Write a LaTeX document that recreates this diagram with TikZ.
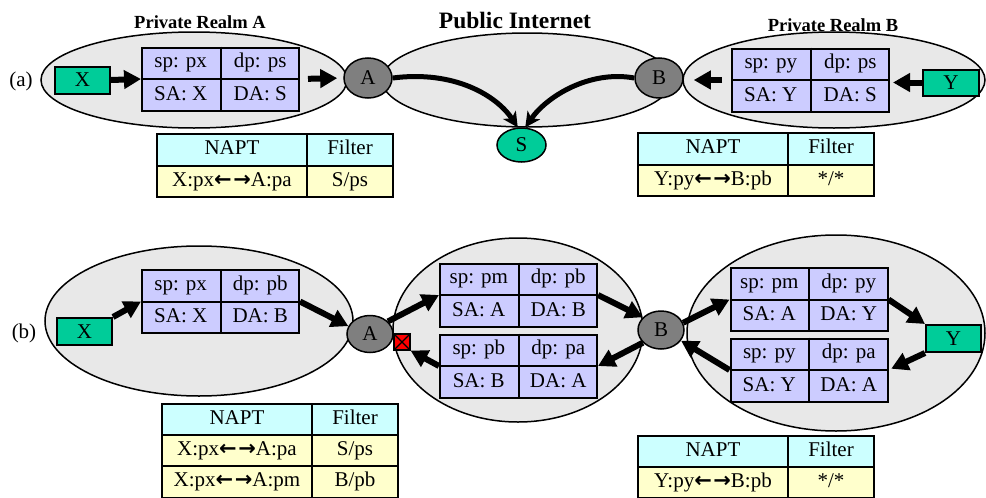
\documentclass[tikz,border=0pt]{standalone}
\usepackage{fontspec}
\setmainfont{Liberation Serif}
\newfontfamily\arrowfont{DejaVu Sans}
\usetikzlibrary{arrows.meta,shapes.geometric,calc}

\definecolor{realmfill}{HTML}{E8E8E8}
\definecolor{pktfill}{HTML}{CCCCFF}
\definecolor{hostfill}{HTML}{00CC99}
\definecolor{natfill}{HTML}{7F7F7F}
\definecolor{headfill}{HTML}{CCFFFF}
\definecolor{rowfill}{HTML}{FFFFCC}

\newcommand\fs{\fontsize{21}{25}\selectfont}
% two-way mapping arrow used inside the NAPT entries
\newcommand\lr{{\arrowfont\bfseries\fontsize{21}{24}\selectfont ←\kern1.5pt→}}

\tikzset{
  realm/.style={ellipse, draw, line width=1.5pt, fill=realmfill, inner sep=0pt},
  host/.style={rectangle, draw, line width=2pt, fill=hostfill, inner sep=0pt,
    minimum width=55pt, minimum height=27pt, font=\fs},
  nat/.style={ellipse, draw, line width=1.5pt, fill=natfill, inner sep=0pt,
    minimum width=48pt, minimum height=40pt, font=\fs},
  pktbox/.style={rectangle, draw, line width=2pt, fill=pktfill, inner sep=0pt,
    minimum width=157pt, minimum height=63pt},
  celltxt/.style={font=\fs, inner sep=0pt, text height=13pt, text depth=3pt},
  tcell/.style={rectangle, draw, line width=2pt, inner sep=0pt, anchor=north west,
    font=\fs, text height=13pt, text depth=3pt},
  hwide/.style={tcell, fill=headfill, minimum width=150pt, minimum height=31.5pt},
  hnarrow/.style={tcell, fill=headfill, minimum width=86pt, minimum height=31.5pt},
  rwide/.style={tcell, fill=rowfill, minimum width=150pt, minimum height=31.5pt},
  rnarrow/.style={tcell, fill=rowfill, minimum width=86pt, minimum height=31.5pt},
  flow/.style={line width=6pt, -{Triangle[length=17pt,width=18pt]}},
  curveflow/.style={line width=5pt, -{Stealth[length=15pt,width=15pt,inset=4pt]}},
  title/.style={font=\bfseries\fontsize{18.5}{22}\selectfont, inner sep=0pt},
  partlbl/.style={font=\fs, inner sep=0pt},
}

% packet header box: name, centre x, centre y, four field texts
\newcommand\pkt[7]{%
  \node[pktbox] (#1) at (#2,#3) {};
  \draw[line width=2pt] (#1.north) -- (#1.south) (#1.west) -- (#1.east);
  \node[celltxt] (#1-1) at ($(#1.north west)!0.5!(#1.center)$) {#4};
  \node[celltxt] (#1-2) at ($(#1.north east)!0.5!(#1.center)$) {#5};
  \node[celltxt] (#1-3) at ($(#1.south west)!0.5!(#1.center)$) {#6};
  \node[celltxt] (#1-4) at ($(#1.south east)!0.5!(#1.center)$) {#7};
}

\begin{document}
\begin{tikzpicture}[x=1pt,y=-1pt]
\useasboundingbox (0,0) rectangle (986,498);

% ---------------- (a) ----------------
\node[title] (ttlA) at (200,22) {Private Realm A};
\node[title, font=\bfseries\fontsize{23.5}{27}\selectfont] (ttlP) at (515,20) {Public Internet};
\node[title] (ttlB) at (833,25) {Private Realm B};

\node[partlbl] (la) at (21,81) {(a)};

\node[realm, minimum width=306pt, minimum height=96pt] (ra) at (194,80) {};
\node[realm, minimum width=290pt, minimum height=94pt] (pa) at (527,80) {};
\node[realm, minimum width=302pt, minimum height=96pt] (rb) at (834,80) {};

\node[host] (xa) at (82.5,80) {X};
\node[host, minimum width=56pt, minimum height=26pt] (ya) at (951,82.5) {Y};
\node[host, ellipse, minimum width=49pt, minimum height=34pt, line width=1.5pt] (sa) at (521.5,145) {S};
\node[nat] (aa) at (368,78) {A};
\node[nat] (ba) at (659,78) {B};

\pkt{ta}{220.5}{79}{sp: px}{dp: ps}{SA: X}{DA: S}
\pkt{tb}{810.5}{80}{sp: py}{dp: ps}{SA: Y}{DA: S}

\draw[flow] (xa.east) -- (ta.west);
\draw[flow, shorten <=8pt, shorten >=6pt] (ta.east) -- (aa.west);
\draw[flow, shorten >=3pt] (ya.west) -- (ya.west -| tb.east);
\draw[flow, shorten <=9pt, shorten >=10pt] (tb.west) -- (tb.west -| ba.east);
\draw[curveflow] (aa.east) .. controls (455,70) and (497,96) .. (sa.102);
\draw[curveflow] (ba.west) .. controls (590,70) and (547,96) .. (sa.78);

% NAPT / filter tables of (a)
\node[hwide]   (na-h1) at (156,133) {NAPT};
\node[hnarrow] (na-h2) at (306,133) {Filter};
\node[rwide]   (na-r1) at (156,164.5) {X:px\lr A:pa};
\node[rnarrow] (na-f1) at (306,164.5) {S/ps};

\node[hwide]   (nb-h1) at (637,132) {NAPT};
\node[hnarrow] (nb-h2) at (787,132) {Filter};
\node[rwide]   (nb-r1) at (637,163.5) {Y:py\lr B:pb};
\node[rnarrow] (nb-f1) at (787,163.5) {*/*};

% ---------------- (b) ----------------
\node[partlbl] (lb) at (24,333) {(b)};

\node[realm, minimum width=308pt, minimum height=150pt] (rab) at (199,321) {};
\node[realm, minimum width=250pt, minimum height=184pt] (pb) at (518,330) {};
\node[realm, minimum width=298pt, minimum height=196pt] (rbb) at (836,333) {};

\node[host] (xb) at (84.5,331.5) {X};
\node[host] (yb) at (953.5,338.5) {Y};
\node[nat, minimum width=46pt, minimum height=37pt] (ab) at (370,334) {A};
\node[nat, minimum width=46pt, minimum height=38pt] (bb) at (661,330) {B};

\node[rectangle, draw, line width=1.2pt, fill=red, minimum size=16pt, inner sep=0pt] (blk) at (402,342) {};
\draw[line width=1.2pt] (blk.north west) -- (blk.south east) (blk.north east) -- (blk.south west);

\pkt{tab}{220.5}{301.5}{sp: px}{dp: pb}{SA: X}{DA: B}
\pkt{tp1}{518.5}{295}{sp: pm}{dp: pb}{SA: A}{DA: B}
\pkt{tp2}{518.5}{366}{sp: pb}{dp: pa}{SA: B}{DA: A}
\pkt{tr1}{809}{299.5}{sp: pm}{dp: py}{SA: A}{DA: Y}
\pkt{tr2}{809}{370}{sp: py}{dp: pa}{SA: Y}{DA: A}

\draw[flow] (xb.north east) -- (tab.west);
\draw[flow] (tab.east) -- (ab.160);
\draw[flow] (ab.35) -- (tp1.west);
\draw[flow] (tp1.east) -- (bb.145);
\draw[flow] (bb.215) -- (tp2.east);
\draw[flow] (tp2.west) -- (blk.south east);
\draw[flow] (bb.18) -- (tr1.west);
\draw[flow] (tr1.east) -- (yb.north west);
\draw[flow, shorten >=3pt] (yb.south west) -- (tr2.east);
\draw[flow] (tr2.west) -- (bb.-28);

% NAPT / filter tables of (b)
\node[hwide, minimum height=30.5pt]   (nab-h1) at (161,403) {NAPT};
\node[hnarrow, minimum height=30.5pt] (nab-h2) at (311,403) {Filter};
\node[rwide, minimum height=31.5pt]   (nab-r1) at (161,433.5) {X:px\lr A:pa};
\node[rnarrow, minimum height=31.5pt] (nab-f1) at (311,433.5) {S/ps};
\node[rwide, minimum height=31.5pt]   (nab-r2) at (161,465) {X:px\lr A:pm};
\node[rnarrow, minimum height=31.5pt] (nab-f2) at (311,465) {B/pb};

\node[hwide, minimum height=31pt]   (nbb-h1) at (637,435) {NAPT};
\node[hnarrow, minimum height=31pt] (nbb-h2) at (787,435) {Filter};
\node[rwide, minimum height=31pt]   (nbb-r1) at (637,466) {Y:py\lr B:pb};
\node[rnarrow, minimum height=31pt] (nbb-f1) at (787,466) {*/*};
\end{tikzpicture}
\end{document}
